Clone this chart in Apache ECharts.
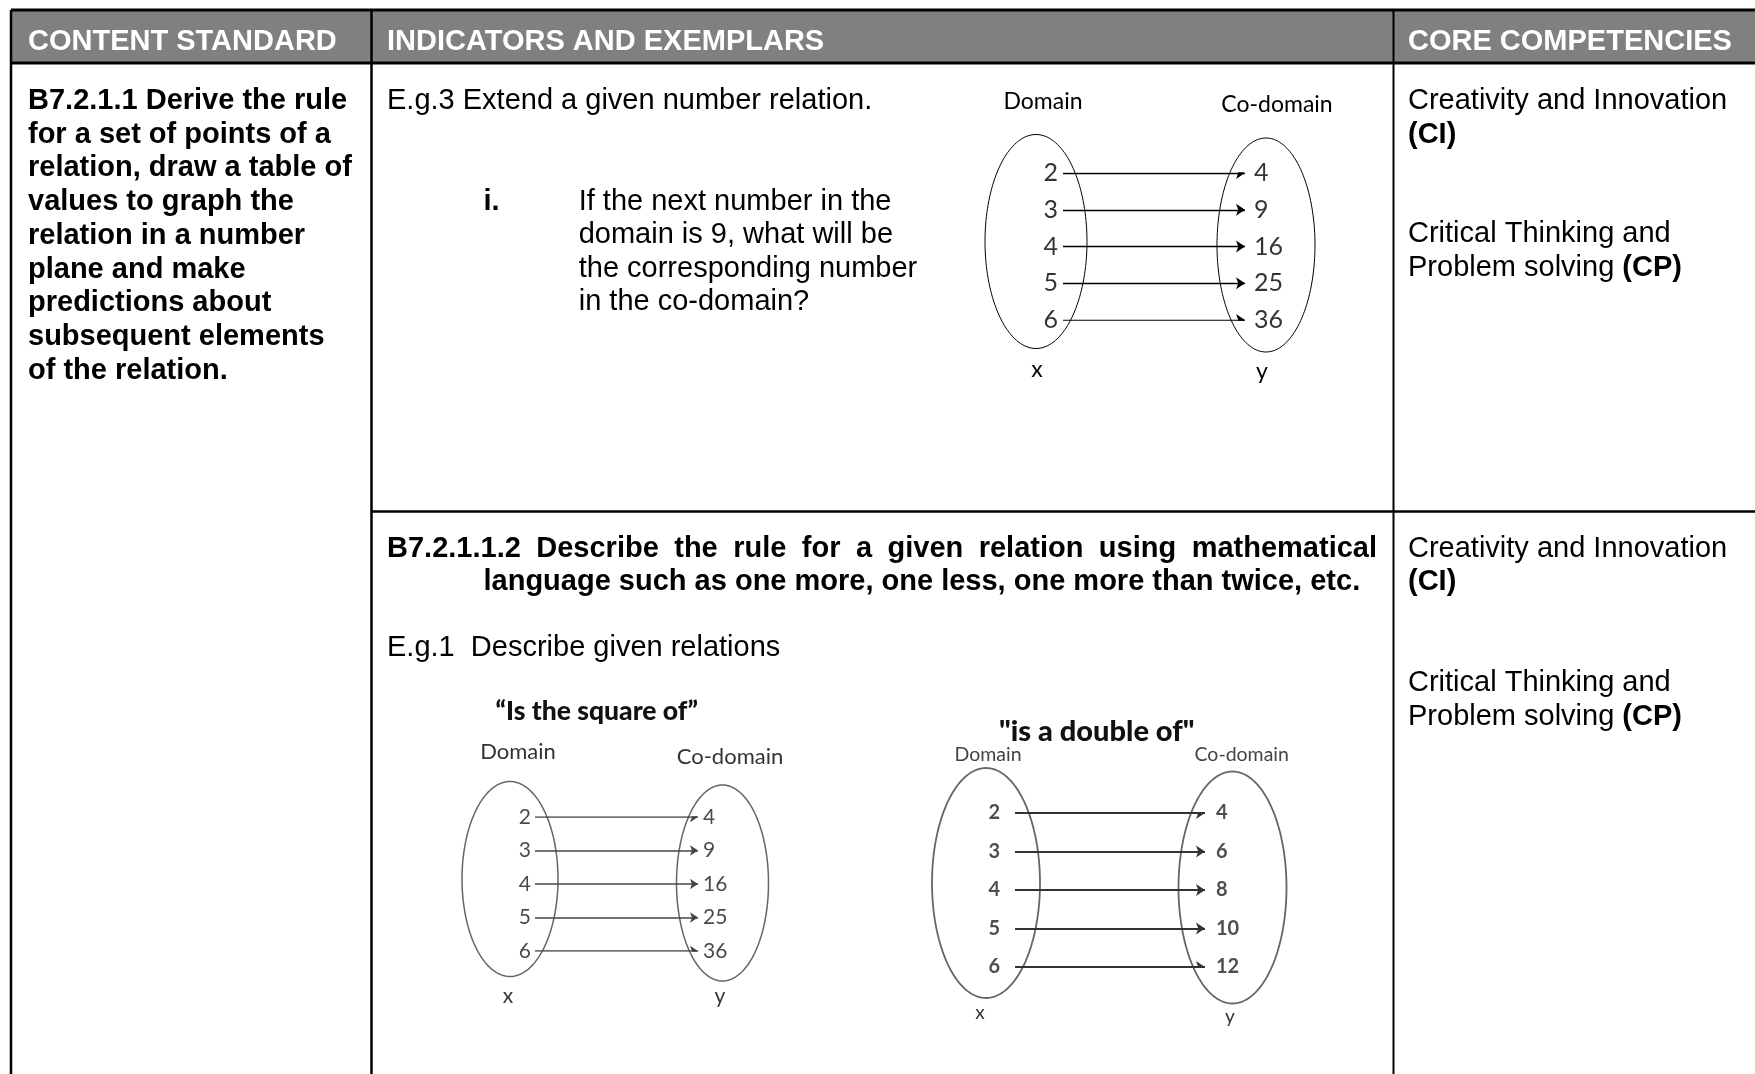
<!DOCTYPE html>
<html><head><meta charset="utf-8">
<script src="https://cdn.jsdelivr.net/npm/echarts@6/dist/echarts.min.js"></script>
<style>html,body{margin:0;padding:0;background:#fff}#main{width:1755px;height:1074px}</style>
</head><body><div id="main"></div>
<script>
// ---------- data ----------
const headerLabels = ['CONTENT STANDARD', 'INDICATORS AND EXEMPLARS', 'CORE COMPETENCIES'];
const standardLines = ['B7.2.1.1 Derive the rule', 'for a set of points of a', 'relation, draw a table of',
  'values to graph the', 'relation in a number', 'plane and make', 'predictions about',
  'subsequent elements', 'of the relation.'];
const exampleTopTitle = 'E.g.3 Extend a given number relation.';
const questionLines = ['If the next number in the', 'domain is 9, what will be', 'the corresponding number', 'in the co-domain?'];
const indicatorLine1 = 'B7.2.1.1.2 Describe the rule for a given relation using mathematical';
const indicatorLine2 = 'language such as one more, one less, one more than twice, etc.';
const exampleBottomTitle = 'E.g.1  Describe given relations';
const competencyA = 'Creativity and Innovation';
const competencyB = 'Critical Thinking and';
const domainTop = [2, 3, 4, 5, 6];
const codomainTop = [4, 9, 16, 25, 36];
const domainSquare = [2, 3, 4, 5, 6];
const codomainSquare = [4, 9, 16, 25, 36];
const domainDouble = [2, 3, 4, 5, 6];
const codomainDouble = [4, 6, 8, 10, 12];
const titleSquare = '\u201cIs the square of\u201d';
const titleDouble = '"is a double of"';

// ---------- helpers ----------
const ARIAL = '"Liberation Sans", Arial, sans-serif';
const GILL = 'Lato, "Open Sans", sans-serif';
const DY = 2.5; // vertical offset for the Arial body text
function T(x, y, text, opt) {
  return { type: 'text', x: x, y: y, silent: true, z: 10,
    style: Object.assign({ text: text, fill: '#000', fontSize: 29, fontFamily: ARIAL,
      align: 'left', verticalAlign: 'middle' }, opt || {}) };
}
function A(x, y, text, opt) { return T(x, y + DY, text, opt); }
function L(x1, y1, x2, y2, w, c) {
  return { type: 'line', silent: true, z: 5, shape: { x1: x1, y1: y1, x2: x2, y2: y2 },
    style: { stroke: c || '#000', lineWidth: w } };
}
function E(cx, cy, rx, ry, color, lw) {
  const pts = [];
  for (let i = 0; i < 160; i++) {
    const a = i / 160 * Math.PI * 2;
    pts.push([cx + rx * Math.cos(a), cy + ry * Math.sin(a)]);
  }
  return { type: 'polygon', silent: true, z: 4, shape: { points: pts },
    style: { fill: 'none', stroke: color, lineWidth: lw } };
}
function justified(text, x0, x1, y, opt) {
  const ctx = document.createElement('canvas').getContext('2d');
  ctx.font = 'bold 29px ' + ARIAL;
  const words = text.split(' ');
  const ws = words.map(w => ctx.measureText(w).width);
  const total = ws.reduce((a, b) => a + b, 0);
  const gap = (x1 - x0 - total) / (words.length - 1);
  let x = x0; const out = [];
  words.forEach((w, i) => { out.push(A(x, y, w, opt)); x += ws[i] + gap; });
  return out;
}

// ---------- table graphics ----------
const g = [];
g.push({ type: 'rect', silent: true, z: 1, shape: { x: 11, y: 10, width: 1744, height: 53 }, style: { fill: '#808080' } });
g.push(L(11, 10, 1755, 10, 3));
g.push(L(11, 63, 1755, 63, 3));
g.push(L(11, 10, 11, 1074, 2.5));
g.push(L(371.5, 10, 371.5, 1074, 2.5));
g.push(L(1393.5, 10, 1393.5, 1074, 2));
g.push(L(371.5, 511.5, 1755, 511.5, 2.5));

const headerX = [28, 387, 1408];
headerLabels.forEach((h, i) => g.push(A(headerX[i], 39, h, { fill: '#fff', fontWeight: 'bold' })));
standardLines.forEach((s, i) => g.push(A(28, 98.5 + 33.7 * i, s, { fontWeight: 'bold' })));
g.push(A(387, 98.5, exampleTopTitle));
g.push(A(483.5, 199, 'i.', { fontWeight: 'bold' }));
questionLines.forEach((s, i) => g.push(A(578.7, 199 + 33.6 * i, s)));

const richCP = { b: { fontWeight: 'bold', fontSize: 29, fontFamily: ARIAL, fill: '#000' },
                 n: { fontSize: 29, fontFamily: ARIAL, fill: '#000' } };
function competencies(y0, y2) {
  g.push(A(1408, y0, competencyA));
  g.push(A(1408, y0 + 33.6, '(CI)', { fontWeight: 'bold' }));
  g.push(A(1408, y2, competencyB));
  g.push(A(1408, y2 + 33.6, '{n|Problem solving }{b|(CP)}', { rich: richCP }));
}
competencies(98.5, 231.7);
competencies(546.2, 680.5);

justified(indicatorLine1, 387, 1377, 546.2, { fontWeight: 'bold' }).forEach(e => g.push(e));
g.push(A(483.5, 579.8, indicatorLine2, { fontWeight: 'bold' }));
g.push(A(387, 645.8, exampleBottomTitle));

// diagram A decorations
g.push(T(1043, 101.7, 'Domain', { fontFamily: GILL, fontSize: 23, align: 'center' }));
g.push(T(1277, 105, 'Co-domain', { fontFamily: GILL, fontSize: 23, align: 'center' }));
g.push(T(1037, 370, 'x', { fontFamily: GILL, fontSize: 23, align: 'center' }));
g.push(T(1262, 372, 'y', { fontFamily: GILL, fontSize: 23, align: 'center' }));
g.push(E(1036, 241.5, 51, 107, '#000', 1));
g.push(E(1266, 245, 49, 107, '#000', 1));
// diagram B decorations
g.push(T(596.7, 711.7, titleSquare, { fontFamily: GILL, fontSize: 26.5, fontWeight: 900, align: 'center', fill: '#111' }));
g.push(T(518, 751.7, 'Domain', { fontFamily: GILL, fontSize: 22, align: 'center', fill: '#333' }));
g.push(T(730, 756.7, 'Co-domain', { fontFamily: GILL, fontSize: 22, align: 'center', fill: '#333' }));
g.push(T(508, 996.7, 'x', { fontFamily: GILL, fontSize: 21, align: 'center', fill: '#333' }));
g.push(T(720, 996.7, 'y', { fontFamily: GILL, fontSize: 21, align: 'center', fill: '#333' }));
g.push(E(510, 879, 48, 97.5, '#666', 1.5));
g.push(E(722.5, 883, 46, 98, '#666', 1.5));
// diagram C decorations
g.push(T(1096.7, 731.7, titleDouble, { fontFamily: GILL, fontSize: 29, fontWeight: 900, align: 'center', fill: '#111' }));
g.push(T(988, 755, 'Domain', { fontFamily: GILL, fontSize: 19.5, align: 'center', fill: '#444' }));
g.push(T(1241.7, 755, 'Co-domain', { fontFamily: GILL, fontSize: 19.5, align: 'center', fill: '#444' }));
g.push(T(980, 1013, 'x', { fontFamily: GILL, fontSize: 19, align: 'center', fill: '#333' }));
g.push(T(1230, 1017, 'y', { fontFamily: GILL, fontSize: 19, align: 'center', fill: '#333' }));
g.push(E(986, 883, 54, 115, '#666', 1.8));
g.push(E(1232.5, 887.5, 54, 116, '#666', 1.8));

// ---------- mapping diagrams as series ----------
const grids = [
  { left: 1063, top: 173, width: 182, height: 147 },
  { left: 535, top: 817, width: 163, height: 134 },
  { left: 1015, top: 813, width: 190, height: 154 }
];
const diagrams = [
  { dom: domainTop, cod: codomainTop, font: { fontSize: 25, fontFamily: GILL, color: '#000' }, dl: 4, dr: 8, line: { color: '#000', width: 1.4 }, arrow: 9 },
  { dom: domainSquare, cod: codomainSquare, font: { fontSize: 21, fontFamily: GILL, color: '#1a1a1a' }, dl: 3, dr: 4, line: { color: '#444', width: 1.6 }, arrow: 8 },
  { dom: domainDouble, cod: codomainDouble, font: { fontSize: 20, fontFamily: GILL, fontWeight: 'bold', color: '#222' }, dl: 14, dr: 10, line: { color: '#333', width: 1.8 }, arrow: 9 }
];
const xAxes = [], yAxes = [], series = [];
diagrams.forEach((d, k) => {
  xAxes.push({ gridIndex: k, type: 'value', min: 0, max: 1, show: false });
  yAxes.push({ gridIndex: k, type: 'value', min: 0, max: d.dom.length - 1, inverse: true, show: false });
  series.push({ type: 'scatter', xAxisIndex: k, yAxisIndex: k, symbolSize: 2, itemStyle: { color: 'rgba(0,0,0,0)' },
    data: d.dom.map((v, i) => ({ name: String(v), value: [0, i] })),
    label: Object.assign({ show: true, position: 'left', distance: d.dl, formatter: '{b}' }, d.font),
    labelLayout: { hideOverlap: false },
    silent: true, z: 6 });
  series.push({ type: 'scatter', xAxisIndex: k, yAxisIndex: k, symbolSize: 2, itemStyle: { color: 'rgba(0,0,0,0)' },
    data: d.cod.map((v, i) => ({ name: String(v), value: [1, i] })),
    label: Object.assign({ show: true, position: 'right', distance: d.dr, formatter: '{b}' }, d.font),
    labelLayout: { hideOverlap: false },
    silent: true, z: 6 });
  series.push({ type: 'lines', coordinateSystem: 'cartesian2d', xAxisIndex: k, yAxisIndex: k,
    symbol: ['none', 'arrow'], symbolSize: [0, d.arrow],
    lineStyle: { color: d.line.color, width: d.line.width, opacity: 1, curveness: 0 },
    data: d.dom.map((v, i) => ({ coords: [[0, i], [1, i]] })),
    silent: true, z: 5 });
});

const chart = echarts.init(document.getElementById('main'), null, { renderer: 'canvas' });
chart.setOption({
  animation: false,
  backgroundColor: '#fff',
  grid: grids,
  xAxis: xAxes,
  yAxis: yAxes,
  series: series,
  graphic: { elements: g }
});
</script></body></html>
